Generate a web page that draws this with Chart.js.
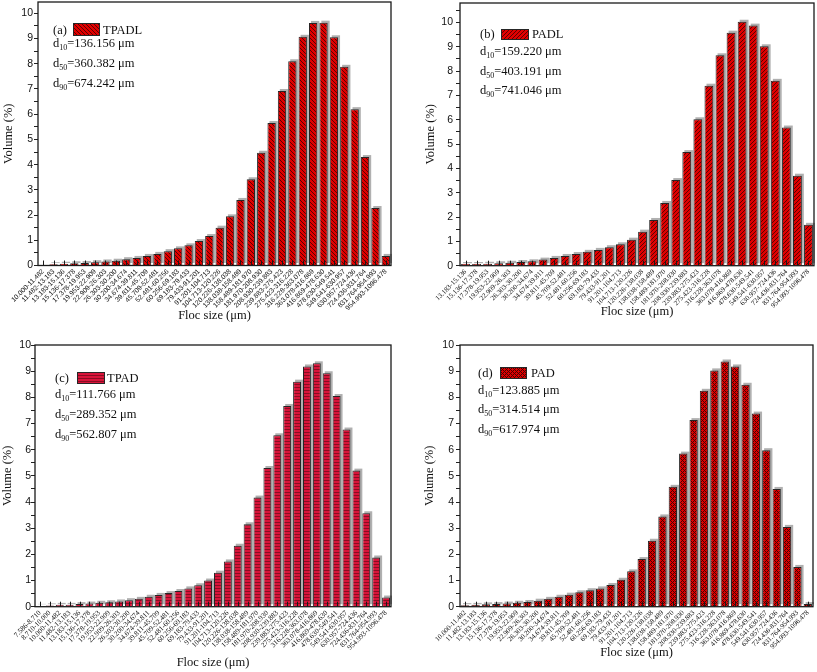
<!DOCTYPE html>
<html>
<head>
<meta charset="utf-8">
<script src="https://cdn.jsdelivr.net/npm/chart.js@4.4.0/dist/chart.umd.min.js"></script>
<style>
  html, body { margin: 0; padding: 0; background: #fff; }
  #page { position: relative; width: 817px; height: 672px; overflow: hidden; background: #fff; }
  #page canvas { position: absolute; }
  .note { position: absolute; font-family: "Liberation Serif", "Times New Roman", serif; font-size: 12.5px;
          line-height: 14px; color: #111; white-space: nowrap; }
  .note sub { font-size: 8px; line-height: 0; vertical-align: -3px; }
</style>
</head>
<body>
<div id="page"></div>
<script>
// bin edges of the size classes (µm), as printed on the x axis
const binEdges = ['7.586', '8.710', '10.000', '11.482', '13.183', '15.136', '17.378', '19.953', '22.909',
  '26.303', '30.200', '34.674', '39.811', '45.709', '52.481', '60.256', '69.183', '79.433', '91.201',
  '104.713', '120.226', '138.038', '158.489', '181.970', '208.930', '239.883', '275.423', '316.228',
  '363.078', '416.869', '478.630', '549.541', '630.957', '724.436', '831.764', '954.993', '1096.478'];
const binLabels = binEdges.slice(0, -1).map((e, i) => e + '-' + binEdges[i + 1]);

const catsA = binLabels.slice(2);
const catsB = binLabels.slice(4);
const catsC = binLabels.slice(0);
const catsD = binLabels.slice(2);

// volume (%) per size class
const volA = [0.02, 0.05, 0.07, 0.09, 0.10, 0.13, 0.16, 0.19, 0.25, 0.30, 0.38, 0.46, 0.57, 0.68, 0.80,
  0.97, 1.17, 1.50, 1.95, 2.60, 3.42, 4.47, 5.65, 6.92, 8.10, 9.07, 9.62, 9.63, 9.05, 7.88, 6.20, 4.30, 2.28, 0.38];
const volB = [0.07, 0.07, 0.08, 0.10, 0.12, 0.15, 0.18, 0.25, 0.32, 0.40, 0.48, 0.57, 0.65, 0.76, 0.88,
  1.07, 1.40, 1.88, 2.58, 3.52, 4.67, 6.02, 7.40, 8.65, 9.58, 10.03, 9.87, 9.02, 7.60, 5.68, 3.70, 1.68];
const volC = [0.03, 0.05, 0.07, 0.07, 0.10, 0.12, 0.15, 0.17, 0.20, 0.25, 0.30, 0.38, 0.45, 0.52, 0.60,
  0.70, 0.82, 1.00, 1.30, 1.73, 2.33, 3.15, 4.17, 5.30, 6.55, 7.67, 8.60, 9.18, 9.30, 8.92, 8.05, 6.77,
  5.20, 3.57, 1.88, 0.35];
const volD = [0.06, 0.07, 0.09, 0.10, 0.12, 0.15, 0.18, 0.23, 0.30, 0.38, 0.46, 0.55, 0.63, 0.70, 0.83,
  1.03, 1.35, 1.82, 2.52, 3.45, 4.58, 5.85, 7.13, 8.25, 9.03, 9.37, 9.18, 8.48, 7.38, 5.98, 4.50, 3.05, 1.52, 0.10];

const seriesNames = ['TPADL', 'PADL', 'TPAD', 'PAD'];
const panelTags = ['(a)', '(b)', '(c)', '(d)'];
const d10 = ['136.156', '159.220', '111.766', '123.885'];
const d50 = ['360.382', '403.191', '289.352', '314.514'];
const d90 = ['674.242', '741.046', '562.807', '617.974'];

// small pixel patterns like Origin's hatch fills
function makePattern(kind, base, ink) {
  const n = kind === 'horiz' ? 3 : 4;
  const c = document.createElement('canvas');
  c.width = n; c.height = n;
  const g = c.getContext('2d');
  g.fillStyle = base;
  g.fillRect(0, 0, n, n);
  g.fillStyle = ink;
  for (let y = 0; y < n; y++) {
    for (let x = 0; x < n; x++) {
      const back = (x - y + n) % n === 0;
      const fwd = (x + y) % n === 0;
      let on = false;
      if (kind === 'back') on = back;
      if (kind === 'fwd') on = fwd;
      if (kind === 'cross') on = back || fwd;
      if (kind === 'horiz') on = y === 0;
      if (on) g.fillRect(x, y, 1, 1);
    }
  }
  return g.createPattern(c, 'repeat');
}

const frame = {
  id: 'frame',
  beforeDatasetsDraw(chart) {
    const ctx = chart.ctx;
    ctx.save();
    ctx.fillStyle = '#b0b0b0';
    chart.getDatasetMeta(0).data.forEach(b => {
      const p = b.getProps(['x', 'y', 'base', 'width'], true);
      ctx.fillRect(p.x - p.width / 2 + 2, p.y - 2, p.width, p.base - p.y);
    });
    ctx.restore();
  },
  afterDatasetsDraw(chart) {
    const { ctx, chartArea: a, scales: { x } } = chart;
    ctx.save();
    ctx.strokeStyle = '#1a1a1a';
    ctx.lineWidth = 1;
    ctx.beginPath();
    for (let i = 0; i < x.ticks.length; i++) {
      const px = Math.round(x.getPixelForTick(i)) + 0.5;
      ctx.moveTo(px, a.bottom);
      ctx.lineTo(px, a.bottom - 5);
    }
    ctx.stroke();
    ctx.lineWidth = 1.3;
    ctx.strokeRect(a.left, a.top, a.right - a.left, a.bottom - a.top);
    ctx.restore();
  }
};

const page = document.getElementById('page');
const panels = [
  { id: 0, left: 0, top: 0, w: 408, h: 336, pl: 38, pr: 391, pt: 2, pb: 265.5, ymax: 10.45,
    cats: catsA, vals: volA, kind: 'back', base: '#e00000', ink: '#5c0000', xFont: 'Liberation Sans', xSize: 6.8,
    yPad: 1, yTitle: 1, xTitle: 12.5, note: [53, 30], sw: [73, 23, 27, 13], name: 103, lines: [43, 63, 83] },
  { id: 1, left: 410, top: 0, w: 407, h: 336, pl: 50, pr: 404, pt: 3, pb: 265.7, ymax: 10.8,
    cats: catsB, vals: volB, kind: 'fwd', base: '#e00000', ink: '#5c0000', xFont: 'Liberation Serif', xSize: 7,
    yPad: 3, yTitle: 13.5, xTitle: 16.5, note: [480, 34], sw: [501, 29, 28, 11], name: 532, lines: [51, 71, 90] },
  { id: 2, left: 0, top: 336, w: 408, h: 336, pl: 35, pr: 391, pt: 9, pb: 270.7, ymax: 10,
    cats: catsC, vals: volC, kind: 'horiz', base: '#d8143a', ink: '#8a0c22', xFont: 'Liberation Serif', xSize: 7.2,
    yPad: 0, yTitle: 0, xTitle: 1.5, note: [55, 378], sw: [77, 372, 28, 12], name: 107, lines: [394, 414, 434] },
  { id: 3, left: 410, top: 336, w: 407, h: 336, pl: 50, pr: 403, pt: 9, pb: 270.7, ymax: 10,
    cats: catsD, vals: volD, kind: 'cross', base: '#dc0000', ink: '#4a0000', xFont: 'Liberation Serif', xSize: 7,
    yPad: 2, yTitle: 12.5, xTitle: 11.5, note: [478, 373], sw: [500, 367, 27, 12], name: 531, lines: [390, 409, 429] }
];

panels.forEach(p => {
  const cv = document.createElement('canvas');
  cv.width = p.w; cv.height = p.h;
  cv.style.left = p.left + 'px'; cv.style.top = p.top + 'px';
  page.appendChild(cv);
  const fill = makePattern(p.kind, p.base, p.ink);

  new Chart(cv, {
    type: 'bar',
    data: {
      labels: p.cats,
      datasets: [{
        label: seriesNames[p.id],
        data: p.vals,
        backgroundColor: fill,
        borderColor: '#262626',
        borderWidth: 1,
        categoryPercentage: 1,
        barPercentage: 0.8
      }]
    },
    options: {
      responsive: false,
      animation: false,
      layout: { padding: { left: 0, top: p.pt, right: p.w - p.pr, bottom: 0 } },
      plugins: { legend: { display: false }, tooltip: { enabled: false } },
      scales: {
        x: {
          afterFit: s => { s.height = p.h - p.pb; s.paddingLeft = 0; s.paddingRight = 0; },
          grid: { display: false, drawTicks: false },
          border: { display: false },
          ticks: { autoSkip: false, maxRotation: 45, minRotation: 45, padding: 2, color: '#111',
                   font: { family: p.xFont, size: p.xSize } },
          title: { display: true, text: 'Floc size (μm)', color: '#111',
                   font: { family: 'Liberation Serif', size: 12.5 }, padding: { top: 0, bottom: p.xTitle } }
        },
        y: {
          min: 0, max: p.ymax,
          afterFit: s => { s.width = p.pl; s.paddingTop = 0; s.paddingBottom = 0; },
          grid: { drawOnChartArea: false, drawTicks: true, tickLength: 4, color: '#222' },
          border: { display: false },
          ticks: { stepSize: 0.5, includeBounds: false, autoSkip: false, padding: p.yPad, color: '#111',
                   font: { family: 'Liberation Sans', size: 10.5 },
                   callback: v => Number.isInteger(v) ? v : '' },
          title: { display: true, text: 'Volume (%)', color: '#111',
                   font: { family: 'Liberation Serif', size: 12.5 }, padding: { top: p.yTitle, bottom: 0 } }
        }
      }
    },
    plugins: [frame]
  });

  // annotation: tag, swatch, series name, d10/d50/d90
  const tag = document.createElement('div');
  tag.className = 'note';
  tag.style.left = p.note[0] + 'px'; tag.style.top = (p.note[1] - 7) + 'px';
  tag.textContent = panelTags[p.id];
  page.appendChild(tag);

  const sw = document.createElement('canvas');
  sw.width = p.sw[2]; sw.height = p.sw[3];
  sw.style.left = p.sw[0] + 'px'; sw.style.top = p.sw[1] + 'px';
  const g = sw.getContext('2d');
  g.fillStyle = makePattern(p.kind, p.base, p.ink);
  g.fillRect(0, 0, p.sw[2], p.sw[3]);
  g.strokeStyle = '#262626';
  g.lineWidth = 1;
  g.strokeRect(0.5, 0.5, p.sw[2] - 1, p.sw[3] - 1);
  page.appendChild(sw);

  const nm = document.createElement('div');
  nm.className = 'note';
  nm.style.left = p.name + 'px'; nm.style.top = (p.note[1] - 7) + 'px';
  nm.textContent = seriesNames[p.id];
  page.appendChild(nm);

  const ds = [['10', d10[p.id]], ['50', d50[p.id]], ['90', d90[p.id]]];
  ds.forEach((d, k) => {
    const el = document.createElement('div');
    el.className = 'note';
    el.style.left = p.note[0] + 'px'; el.style.top = (p.lines[k] - 7) + 'px';
    el.innerHTML = 'd<sub>' + d[0] + '</sub>=' + d[1] + ' μm';
    page.appendChild(el);
  });
});
</script>
</body>
</html>
